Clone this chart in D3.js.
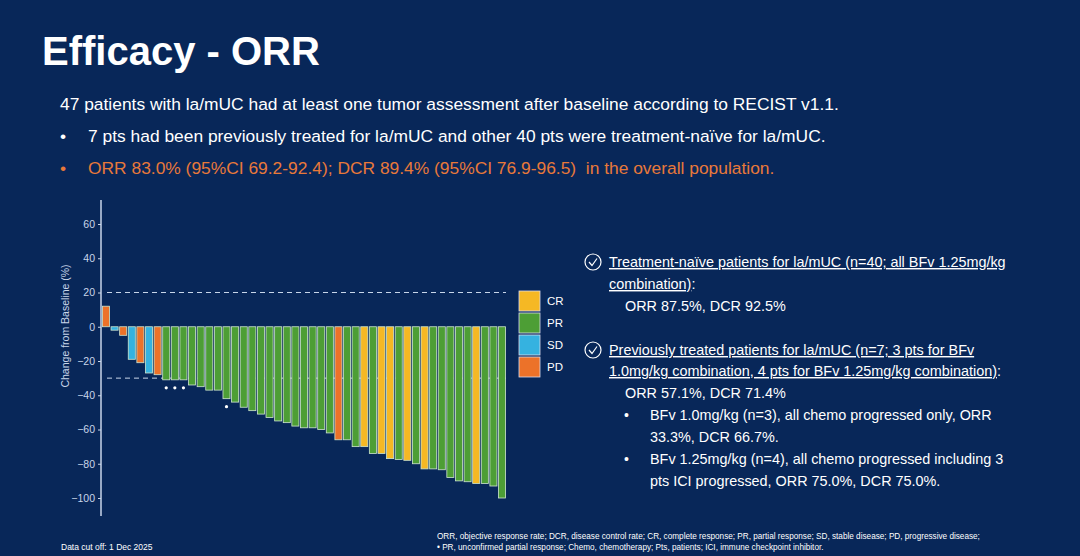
<!DOCTYPE html>
<html><head><meta charset="utf-8">
<script src="https://cdn.jsdelivr.net/npm/d3@7"></script>
<style>
body{margin:0;background:#082759;font-family:Arial,"Liberation Sans",sans-serif}
svg text{font-family:Arial,"Liberation Sans",sans-serif}
</style></head><body>
<svg id="c" width="1080" height="556"></svg>
<script>
const values = [12,-2,-5,-19,-21,-27,-28,-31,-31,-31,-34,-35,-37,-37,-42,-44,-47,-49,-51,-53,-55,-56,-58,-59,-59,-60,
  -62,-66,-66,-70,-70,-74,-74,-77,-77.5,-78,-80,-83,-83,-83.5,-88,-90,-90.5,-91.5,-91.5,-93,-100]
const responses = ["PD","SD","PD","SD","PD","SD","PD","PR","PR","PR","PR","PR","PR","PR","PR","PR","PR","PR","PR","PR","PR","PR","PR","PR","PR","PR",
  "PR","PD","PR","PR","CR","PR","CR","CR","PR","CR","PR","CR","PR","PR","PR","PR","PR","CR","PR","PR","PR"]
const unconfirmed = [7,8,9,14]
const yTicks = [60,40,20,0,-20,-40,-60,-80,-100]
const categories = ["CR","PR","SD","PD"]
const colors = {CR:"#f5b824",PR:"#4d9e35",SD:"#35b2e0",PD:"#ec7229"}

const svg = d3.select("#c")
svg.append("text").attr("x",42).attr("y",65).attr("fill","#fff").attr("font-size",40).attr("font-weight","bold").text("Efficacy - ORR")
svg.append("text").attr("x",60).attr("y",110).attr("fill","#fff").attr("font-size",17.4).text("47 patients with la/mUC had at least one tumor assessment after baseline according to RECIST v1.1.")
svg.append("text").attr("x",60).attr("y",142).attr("fill","#fff").attr("font-size",17.4).text("•")
svg.append("text").attr("x",88).attr("y",142).attr("fill","#fff").attr("font-size",17.4).text("7 pts had been previously treated for la/mUC and other 40 pts were treatment-naïve for la/mUC.")
svg.append("text").attr("x",60).attr("y",174).attr("fill","#e8793a").attr("font-size",17.4).text("•")
svg.append("text").attr("x",88).attr("y",174).attr("fill","#e8793a").attr("font-size",17.4).attr("xml:space","preserve").text("ORR 83.0% (95%CI 69.2-92.4); DCR 89.4% (95%CI 76.9-96.5)  in the overall population.")

const y = d3.scaleLinear().domain([-100,60]).range([498,224])
const x = d3.scaleBand().domain(d3.range(values.length)).range([102,506]).paddingInner(0.18).paddingOuter(0.05)
const g = svg.append("g")
g.append("line").attr("x1",101).attr("x2",101).attr("y1",200).attr("y2",516).attr("stroke","#c8d6ea").attr("stroke-width",1.5)
const ax = g.append("g").attr("transform","translate(101,0)").call(d3.axisLeft(y).tickValues(yTicks).tickSize(3))
ax.select(".domain").remove()
ax.selectAll("line").attr("stroke","#c8d6ea")
ax.selectAll("text").attr("fill","#c8d6ea").attr("font-size",10.5)
g.append("text").attr("transform","translate(69,326) rotate(-90)").attr("text-anchor","middle").attr("fill","#c8d6ea").attr("font-size",10.5).text("Change from Baseline (%)")
;[20,-30].forEach(v=>g.append("line").attr("x1",107).attr("x2",506).attr("y1",y(v)).attr("y2",y(v)).attr("stroke","#c8d6ea").attr("stroke-dasharray","5,4").attr("stroke-width",1))
g.selectAll("rect.b").data(values).join("rect").attr("class","b")
  .attr("x",(d,i)=>x(i)).attr("width",x.bandwidth())
  .attr("y",d=>y(Math.max(0,d))).attr("height",d=>Math.abs(y(d)-y(0)))
  .attr("fill",(d,i)=>colors[responses[i]]).attr("stroke","#cfe6cf").attr("stroke-width",0.8)
g.selectAll("circle.u").data(unconfirmed).join("circle").attr("class","u")
  .attr("cx",i=>x(i)+x.bandwidth()/2).attr("cy",i=>y(values[i])+8).attr("r",1.6).attr("fill","#fff")

const lg = svg.append("g").attr("transform","translate(519,291)")
categories.forEach((c,i)=>{
  lg.append("rect").attr("x",0).attr("y",i*22).attr("width",21).attr("height",20).attr("fill",colors[c]).attr("stroke","#dde").attr("stroke-width",0.8)
  lg.append("text").attr("x",28).attr("y",i*22+14).attr("fill","#fff").attr("font-size",11.5).text(c)
})

const rt = [
  {x:609,y:267,t:"Treatment-naïve patients for la/mUC (n=40; all BFv 1.25mg/kg",u:true,icon:true},
  {x:609,y:289,t:"combination)",u:true,suffix:":"},
  {x:625,y:311,t:"ORR 87.5%, DCR 92.5%"},
  {x:609,y:355,t:"Previously treated patients for la/mUC (n=7; 3 pts for BFv",u:true,icon:true},
  {x:609,y:376,t:"1.0mg/kg combination, 4 pts for BFv 1.25mg/kg combination)",u:true,suffix:":"},
  {x:625,y:398,t:"ORR 57.1%, DCR 71.4%"},
  {x:650,y:420,t:"BFv 1.0mg/kg (n=3), all chemo progressed only, ORR",bullet:true},
  {x:650,y:442,t:"33.3%, DCR 66.7%."},
  {x:650,y:464,t:"BFv 1.25mg/kg (n=4), all chemo progressed including 3",bullet:true},
  {x:650,y:486,t:"pts ICI progressed, ORR 75.0%, DCR 75.0%."}
]
rt.forEach(r=>{
  const t = svg.append("text").attr("x",r.x).attr("y",r.y).attr("fill","#fff").attr("font-size",14.4)
  t.append("tspan").attr("text-decoration",r.u?"underline":null).text(r.t)
  if(r.suffix) t.append("tspan").text(r.suffix)
  if(r.bullet) svg.append("text").attr("x",624).attr("y",r.y).attr("fill","#fff").attr("font-size",14).text("•")
  if(r.icon){
    svg.append("circle").attr("cx",593).attr("cy",r.y-5).attr("r",8).attr("fill","none").attr("stroke","#fff").attr("stroke-width",1.2)
    svg.append("path").attr("d",`M589,${r.y-5} l3,3.5 l5,-7`).attr("fill","none").attr("stroke","#fff").attr("stroke-width",1.2)
  }
})
svg.append("text").attr("x",61).attr("y",550).attr("fill","#fff").attr("font-size",8.5).text("Data cut off: 1 Dec 2025")
svg.append("text").attr("x",437).attr("y",539).attr("fill","#fff").attr("font-size",8.2).text("ORR, objective response rate; DCR, disease control rate; CR, complete response; PR, partial response; SD, stable disease; PD, progressive disease;")
svg.append("text").attr("x",437).attr("y",550).attr("fill","#fff").attr("font-size",8.2).text("• PR, unconfirmed partial response; Chemo, chemotherapy; Pts, patients; ICI, immune checkpoint inhibitor.")
</script></body></html>
